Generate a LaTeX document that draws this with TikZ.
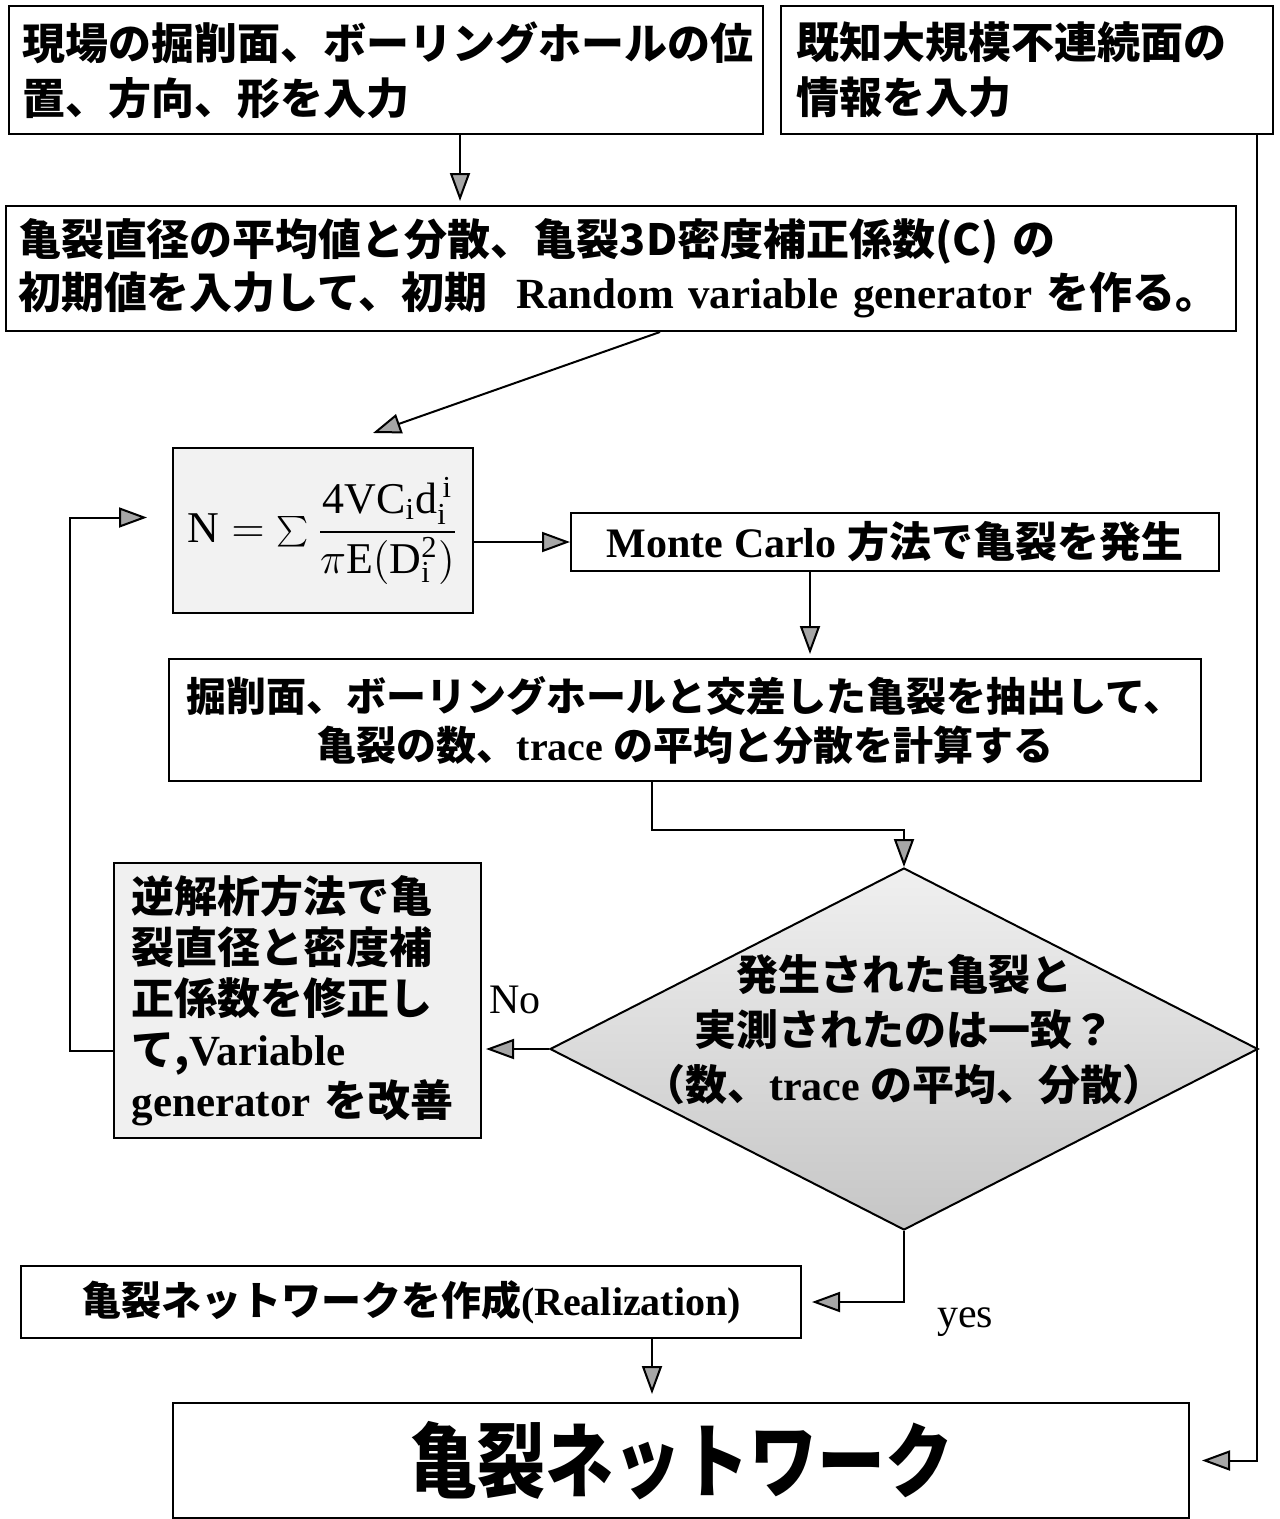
\documentclass[tikz,border=0pt]{standalone}
\usepackage{fontspec}
\setmainfont{Liberation Serif}
\newfontfamily\jp{Noto Sans CJK JP}
\usetikzlibrary{arrows.meta,shapes.geometric,calc}
\newcommand\fs[2]{\fontsize{#1}{#2}\selectfont}
\newcommand\J[1]{{\jp\bfseries #1}}
\newcommand\T[1]{{\bfseries #1}}
\begin{document}
\begin{tikzpicture}[x=1pt,y=-1pt,
  box/.style={draw, line width=2pt, fill=white, inner sep=0pt},
  arr/.style={line width=2pt, -{Triangle[length=28pt,width=20pt,fill=gray!70]}},
  lbl/.style={font=\fs{42}{48}}]
\useasboundingbox (0,0) rectangle (1280,1519);

% top boxes
\node[box, anchor=north west, minimum width=754pt, minimum height=128pt,
      text width=726pt, align=left, font=\fs{43}{55}] (A) at (8,5)
  {\J{現場の掘削面、ボーリングホールの位}\\\J{置、方向、形を入力}};
\node[box, anchor=north west, minimum width=492pt, minimum height=128pt,
      text width=462pt, align=left, font=\fs{43}{55}] (B) at (780,5)
  {\J{既知大規模不連続面の}\\\J{情報を入力}};

\node[box, anchor=north west, minimum width=1230pt, minimum height=125pt,
      text width=1206pt, align=left, font=\fs{43}{53}] (C) at (5,205)
  {\J{亀裂直径の平均値と分散、亀裂3D密度補正係数(C)\ の}\\
   \J{初期値を入力して、初期}\ \ \T{Random variable generator}\ \J{を作る。}};

% formula box
\node[box, fill=gray!10, anchor=north west, minimum width=300pt, minimum height=165pt] (D) at (172,447)
  {\scalebox{3.05}{\fs{14.4}{17}$\mathrm{N}=\textstyle\sum\displaystyle\frac{\mathrm{4VC_i d^{\,i}_i}}{\pi\mathrm{E(D_i^2)}}$}};

\node[box, anchor=north west, minimum width=648pt, minimum height=58pt,
      font=\fs{42}{50}] (E) at (570,512)
  {\T{Monte Carlo}\ \J{方法で亀裂を発生}};

\node[box, anchor=north west, minimum width=1032pt, minimum height=122pt,
      align=center, font=\fs{40}{49}] (F) at (168,658)
  {\J{掘削面、ボーリングホールと交差した亀裂を抽出して、}\\
   \J{亀裂の数、}\T{trace}\ \J{の平均と分散を計算する}};

% decision
\node[draw, line width=2pt, shape=diamond, top color=gray!12, bottom color=gray!45,
      minimum width=708pt, minimum height=362pt, inner sep=0pt] (G) at (904,1049) {};
\node[align=center, font=\fs{42}{55}] (Gt) at (904,1030)
  {\J{発生された亀裂と}\\\J{実測されたのは一致？}\\\J{（数、}\T{trace}\ \J{の平均、分散）}};

\node[box, fill=gray!12, anchor=north west, minimum width=367pt, minimum height=275pt,
      text width=332pt, align=left, font=\fs{43}{51}] (H) at (113,862)
  {\J{逆解析方法で亀}\\\J{裂直径と密度補}\\\J{正係数を修正し}\\\J{て,}\T{Variable}\\\T{generator}\ \J{を改善}};

\node[box, anchor=north west, minimum width=780pt, minimum height=72pt,
      font=\fs{40}{46}] (I) at (20,1265)
  {\J{亀裂ネットワークを作成}\T{(Realization)}};

\node[box, anchor=north west, minimum width=1016pt, minimum height=115pt,
      font=\fs{68}{80}] (J) at (172,1402)
  {\scalebox{1}[1.2]{\J{亀裂ネットワーク}}};

% labels
\node[lbl] (no) at (515,1000) {No};
\node[lbl] (yes) at (965,1322) {yes};

% connectors
\draw[arr, shorten >=4pt] (460,0 |- A.south) -- (460,0 |- C.north);
\draw[arr] (660,0 |- C.south) -- ([xshift=50pt,yshift=14pt]D.north);
\draw[arr] (D.east |- E.west) -- (E.west);
\draw[arr, shorten >=4pt] (810,0 |- E.south) -- (810,0 |- F.north);
\draw[arr] (652,0 |- F.south) -- ++(0,48) -| (G.north);
\draw[arr, shorten >=4pt] (G.west) -- (G.west -| H.east);
\draw[arr] ([yshift=-50pt]H.west) -- ++(-43,0) |- ($(D.west)+(-25,-13)$);
\draw[arr] (G.south) |- ([xshift=10pt]I.east);
\draw[arr, shorten >=8pt] (652,0 |- I.south) -- (652,0 |- J.north);
\draw[arr] ([xshift=-17pt]B.south east) |- ([xshift=12pt]J.east);
\end{tikzpicture}
\end{document}
